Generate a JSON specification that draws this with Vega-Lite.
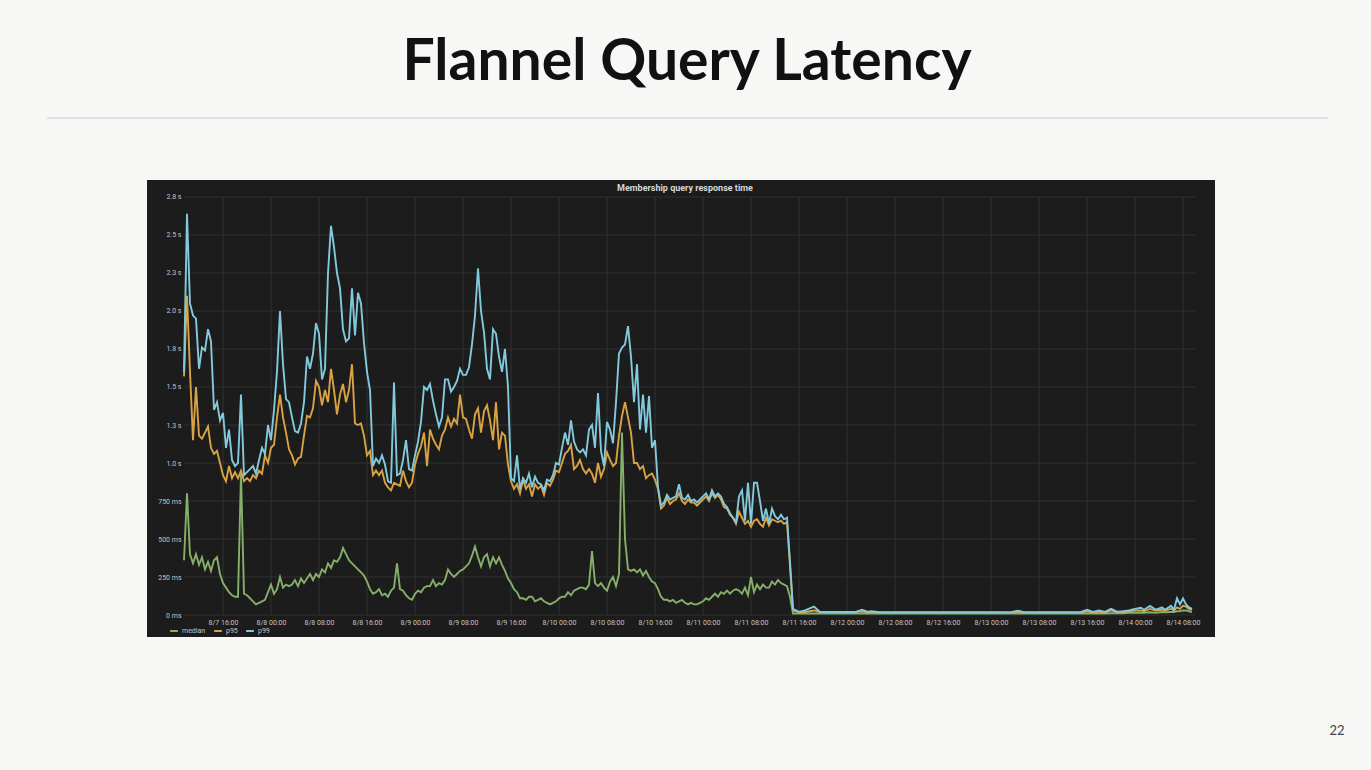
{
  "$schema": "https://vega.github.io/schema/vega-lite/v6.json",
  "width": 1068,
  "height": 457,
  "autosize": {"type": "none"},
  "padding": {"left": 147, "top": 180, "right": 156, "bottom": 133},
  "background": "#f7f7f5",
  "config": {
    "view": {"fill": "#1c1c1c", "stroke": null},
    "axis": {"labelFont": "Roboto", "labelFontSize": 7, "labelColor": "#c4c4c4", "domain": false, "ticks": false, "tickSize": 0, "grid": false, "title": null}
  },
  "datasets": {
    "series": [
      {"t":"2017-08-07T09:30","median":0.36,"p95":1.57,"p99":1.60},
      {"t":"2017-08-07T10:00","median":0.80,"p95":2.10,"p99":2.64},
      {"t":"2017-08-07T10:30","median":0.40,"p95":1.60,"p99":2.05},
      {"t":"2017-08-07T11:00","median":0.34,"p95":1.15,"p99":1.97},
      {"t":"2017-08-07T11:30","median":0.40,"p95":1.50,"p99":1.95},
      {"t":"2017-08-07T12:00","median":0.33,"p95":1.18,"p99":1.62},
      {"t":"2017-08-07T12:30","median":0.38,"p95":1.16,"p99":1.76},
      {"t":"2017-08-07T13:00","median":0.30,"p95":1.20,"p99":1.74},
      {"t":"2017-08-07T13:30","median":0.35,"p95":1.24,"p99":1.88},
      {"t":"2017-08-07T14:00","median":0.29,"p95":1.10,"p99":1.80},
      {"t":"2017-08-07T14:30","median":0.36,"p95":1.06,"p99":1.35},
      {"t":"2017-08-07T15:00","median":0.38,"p95":1.08,"p99":1.40},
      {"t":"2017-08-07T15:30","median":0.27,"p95":1.00,"p99":1.28},
      {"t":"2017-08-07T16:00","median":0.21,"p95":0.92,"p99":1.33},
      {"t":"2017-08-07T16:30","median":0.18,"p95":0.88,"p99":1.10},
      {"t":"2017-08-07T17:00","median":0.15,"p95":0.98,"p99":1.22},
      {"t":"2017-08-07T17:30","median":0.13,"p95":0.90,"p99":1.02},
      {"t":"2017-08-07T18:00","median":0.12,"p95":0.94,"p99":0.98},
      {"t":"2017-08-07T18:30","median":0.12,"p95":0.90,"p99":1.00},
      {"t":"2017-08-07T19:00","median":0.93,"p95":0.95,"p99":1.45},
      {"t":"2017-08-07T19:30","median":0.14,"p95":0.88,"p99":0.92},
      {"t":"2017-08-07T20:00","median":0.13,"p95":0.90,"p99":0.94},
      {"t":"2017-08-07T20:30","median":0.11,"p95":0.88,"p99":0.96},
      {"t":"2017-08-07T21:00","median":0.09,"p95":0.92,"p99":0.98},
      {"t":"2017-08-07T21:30","median":0.07,"p95":0.90,"p99":0.93},
      {"t":"2017-08-07T22:00","median":0.08,"p95":0.95,"p99":1.02},
      {"t":"2017-08-07T22:30","median":0.09,"p95":0.93,"p99":1.10},
      {"t":"2017-08-07T23:00","median":0.10,"p95":1.05,"p99":1.06},
      {"t":"2017-08-07T23:30","median":0.15,"p95":1.00,"p99":1.25},
      {"t":"2017-08-08T00:00","median":0.20,"p95":1.10,"p99":1.15},
      {"t":"2017-08-08T00:30","median":0.14,"p95":1.12,"p99":1.35},
      {"t":"2017-08-08T01:00","median":0.17,"p95":1.30,"p99":1.60},
      {"t":"2017-08-08T01:30","median":0.25,"p95":1.45,"p99":2.00},
      {"t":"2017-08-08T02:00","median":0.18,"p95":1.30,"p99":1.65},
      {"t":"2017-08-08T02:30","median":0.20,"p95":1.20,"p99":1.42},
      {"t":"2017-08-08T03:00","median":0.19,"p95":1.09,"p99":1.40},
      {"t":"2017-08-08T03:30","median":0.20,"p95":1.05,"p99":1.30},
      {"t":"2017-08-08T04:00","median":0.23,"p95":0.99,"p99":1.21},
      {"t":"2017-08-08T04:30","median":0.19,"p95":1.03,"p99":1.20},
      {"t":"2017-08-08T05:00","median":0.24,"p95":1.04,"p99":1.26},
      {"t":"2017-08-08T05:30","median":0.21,"p95":1.18,"p99":1.40},
      {"t":"2017-08-08T06:00","median":0.24,"p95":1.31,"p99":1.70},
      {"t":"2017-08-08T06:30","median":0.27,"p95":1.30,"p99":1.62},
      {"t":"2017-08-08T07:00","median":0.23,"p95":1.36,"p99":1.72},
      {"t":"2017-08-08T07:30","median":0.27,"p95":1.54,"p99":1.92},
      {"t":"2017-08-08T08:00","median":0.25,"p95":1.50,"p99":1.85},
      {"t":"2017-08-08T08:30","median":0.30,"p95":1.38,"p99":1.55},
      {"t":"2017-08-08T09:00","median":0.28,"p95":1.48,"p99":1.62},
      {"t":"2017-08-08T09:30","median":0.34,"p95":1.40,"p99":2.25},
      {"t":"2017-08-08T10:00","median":0.31,"p95":1.62,"p99":2.56},
      {"t":"2017-08-08T10:30","median":0.36,"p95":1.48,"p99":2.42},
      {"t":"2017-08-08T11:00","median":0.35,"p95":1.32,"p99":2.25},
      {"t":"2017-08-08T11:30","median":0.38,"p95":1.45,"p99":2.15},
      {"t":"2017-08-08T12:00","median":0.44,"p95":1.52,"p99":1.88},
      {"t":"2017-08-08T12:30","median":0.40,"p95":1.40,"p99":1.80},
      {"t":"2017-08-08T13:00","median":0.36,"p95":1.48,"p99":1.82},
      {"t":"2017-08-08T13:30","median":0.34,"p95":1.65,"p99":2.15},
      {"t":"2017-08-08T14:00","median":0.32,"p95":1.26,"p99":1.84},
      {"t":"2017-08-08T14:30","median":0.30,"p95":1.25,"p99":2.12},
      {"t":"2017-08-08T15:00","median":0.28,"p95":1.26,"p99":2.05},
      {"t":"2017-08-08T15:30","median":0.26,"p95":1.18,"p99":1.79},
      {"t":"2017-08-08T16:00","median":0.22,"p95":1.05,"p99":1.60},
      {"t":"2017-08-08T16:30","median":0.17,"p95":1.08,"p99":1.48},
      {"t":"2017-08-08T17:00","median":0.14,"p95":0.92,"p99":0.98},
      {"t":"2017-08-08T17:30","median":0.15,"p95":0.95,"p99":1.03},
      {"t":"2017-08-08T18:00","median":0.17,"p95":0.92,"p99":1.00},
      {"t":"2017-08-08T18:30","median":0.13,"p95":0.95,"p99":1.05},
      {"t":"2017-08-08T19:00","median":0.14,"p95":0.87,"p99":0.99},
      {"t":"2017-08-08T19:30","median":0.12,"p95":0.84,"p99":0.88},
      {"t":"2017-08-08T20:00","median":0.16,"p95":0.82,"p99":0.87},
      {"t":"2017-08-08T20:30","median":0.18,"p95":0.87,"p99":1.53},
      {"t":"2017-08-08T21:00","median":0.34,"p95":0.86,"p99":0.92},
      {"t":"2017-08-08T21:30","median":0.17,"p95":0.85,"p99":0.93},
      {"t":"2017-08-08T22:00","median":0.16,"p95":0.95,"p99":1.02},
      {"t":"2017-08-08T22:30","median":0.13,"p95":0.88,"p99":1.15},
      {"t":"2017-08-08T23:00","median":0.11,"p95":0.84,"p99":0.96},
      {"t":"2017-08-08T23:30","median":0.10,"p95":0.87,"p99":0.95},
      {"t":"2017-08-09T00:00","median":0.14,"p95":0.99,"p99":1.05},
      {"t":"2017-08-09T00:30","median":0.16,"p95":1.06,"p99":1.14},
      {"t":"2017-08-09T01:00","median":0.15,"p95":1.11,"p99":1.27},
      {"t":"2017-08-09T01:30","median":0.18,"p95":1.20,"p99":1.50},
      {"t":"2017-08-09T02:00","median":0.19,"p95":0.98,"p99":1.48},
      {"t":"2017-08-09T02:30","median":0.19,"p95":1.22,"p99":1.52},
      {"t":"2017-08-09T03:00","median":0.23,"p95":1.16,"p99":1.41},
      {"t":"2017-08-09T03:30","median":0.19,"p95":1.12,"p99":1.32},
      {"t":"2017-08-09T04:00","median":0.21,"p95":1.09,"p99":1.24},
      {"t":"2017-08-09T04:30","median":0.20,"p95":1.18,"p99":1.30},
      {"t":"2017-08-09T05:00","median":0.23,"p95":1.22,"p99":1.55},
      {"t":"2017-08-09T05:30","median":0.30,"p95":1.30,"p99":1.55},
      {"t":"2017-08-09T06:00","median":0.27,"p95":1.24,"p99":1.47},
      {"t":"2017-08-09T06:30","median":0.25,"p95":1.29,"p99":1.50},
      {"t":"2017-08-09T07:00","median":0.27,"p95":1.26,"p99":1.54},
      {"t":"2017-08-09T07:30","median":0.29,"p95":1.45,"p99":1.62},
      {"t":"2017-08-09T08:00","median":0.30,"p95":1.30,"p99":1.58},
      {"t":"2017-08-09T08:30","median":0.32,"p95":1.29,"p99":1.58},
      {"t":"2017-08-09T09:00","median":0.34,"p95":1.22,"p99":1.63},
      {"t":"2017-08-09T09:30","median":0.39,"p95":1.16,"p99":1.78},
      {"t":"2017-08-09T10:00","median":0.45,"p95":1.32,"p99":1.97},
      {"t":"2017-08-09T10:30","median":0.38,"p95":1.36,"p99":2.28},
      {"t":"2017-08-09T11:00","median":0.32,"p95":1.20,"p99":2.00},
      {"t":"2017-08-09T11:30","median":0.38,"p95":1.34,"p99":1.86},
      {"t":"2017-08-09T12:00","median":0.40,"p95":1.38,"p99":1.62},
      {"t":"2017-08-09T12:30","median":0.32,"p95":1.28,"p99":1.55},
      {"t":"2017-08-09T13:00","median":0.38,"p95":1.15,"p99":1.88},
      {"t":"2017-08-09T13:30","median":0.34,"p95":1.40,"p99":1.85},
      {"t":"2017-08-09T14:00","median":0.38,"p95":1.09,"p99":1.70},
      {"t":"2017-08-09T14:30","median":0.33,"p95":1.20,"p99":1.60},
      {"t":"2017-08-09T15:00","median":0.29,"p95":1.18,"p99":1.75},
      {"t":"2017-08-09T15:30","median":0.24,"p95":0.99,"p99":1.50},
      {"t":"2017-08-09T16:00","median":0.21,"p95":0.88,"p99":0.90},
      {"t":"2017-08-09T16:30","median":0.17,"p95":0.83,"p99":0.88},
      {"t":"2017-08-09T17:00","median":0.15,"p95":0.86,"p99":1.05},
      {"t":"2017-08-09T17:30","median":0.11,"p95":0.80,"p99":0.83},
      {"t":"2017-08-09T18:00","median":0.11,"p95":0.89,"p99":0.90},
      {"t":"2017-08-09T18:30","median":0.10,"p95":0.83,"p99":0.87},
      {"t":"2017-08-09T19:00","median":0.12,"p95":0.86,"p99":0.93},
      {"t":"2017-08-09T19:30","median":0.12,"p95":0.78,"p99":0.84},
      {"t":"2017-08-09T20:00","median":0.09,"p95":0.86,"p99":0.91},
      {"t":"2017-08-09T20:30","median":0.10,"p95":0.83,"p99":0.87},
      {"t":"2017-08-09T21:00","median":0.11,"p95":0.85,"p99":0.86},
      {"t":"2017-08-09T21:30","median":0.09,"p95":0.79,"p99":0.82},
      {"t":"2017-08-09T22:00","median":0.08,"p95":0.87,"p99":0.89},
      {"t":"2017-08-09T22:30","median":0.07,"p95":0.85,"p99":0.88},
      {"t":"2017-08-09T23:00","median":0.08,"p95":0.89,"p99":0.92},
      {"t":"2017-08-09T23:30","median":0.09,"p95":0.95,"p99":1.00},
      {"t":"2017-08-10T00:00","median":0.11,"p95":0.94,"p99":0.99},
      {"t":"2017-08-10T00:30","median":0.12,"p95":1.00,"p99":1.10},
      {"t":"2017-08-10T01:00","median":0.12,"p95":1.06,"p99":1.20},
      {"t":"2017-08-10T01:30","median":0.15,"p95":1.08,"p99":1.12},
      {"t":"2017-08-10T02:00","median":0.13,"p95":1.12,"p99":1.28},
      {"t":"2017-08-10T02:30","median":0.16,"p95":0.96,"p99":1.14},
      {"t":"2017-08-10T03:00","median":0.17,"p95":0.98,"p99":1.09},
      {"t":"2017-08-10T03:30","median":0.18,"p95":1.02,"p99":1.07},
      {"t":"2017-08-10T04:00","median":0.18,"p95":0.96,"p99":1.09},
      {"t":"2017-08-10T04:30","median":0.17,"p95":0.93,"p99":1.05},
      {"t":"2017-08-10T05:00","median":0.20,"p95":0.96,"p99":1.22},
      {"t":"2017-08-10T05:30","median":0.42,"p95":0.93,"p99":1.25},
      {"t":"2017-08-10T06:00","median":0.21,"p95":0.87,"p99":1.10},
      {"t":"2017-08-10T06:30","median":0.19,"p95":1.00,"p99":1.46},
      {"t":"2017-08-10T07:00","median":0.21,"p95":0.91,"p99":1.08},
      {"t":"2017-08-10T07:30","median":0.18,"p95":0.96,"p99":0.98},
      {"t":"2017-08-10T08:00","median":0.16,"p95":1.07,"p99":1.27},
      {"t":"2017-08-10T08:30","median":0.22,"p95":1.02,"p99":1.22},
      {"t":"2017-08-10T09:00","median":0.25,"p95":0.98,"p99":1.13},
      {"t":"2017-08-10T09:30","median":0.19,"p95":1.00,"p99":1.40},
      {"t":"2017-08-10T10:00","median":0.27,"p95":1.18,"p99":1.72},
      {"t":"2017-08-10T10:30","median":1.20,"p95":1.31,"p99":1.76},
      {"t":"2017-08-10T11:00","median":0.50,"p95":1.40,"p99":1.78},
      {"t":"2017-08-10T11:30","median":0.30,"p95":1.30,"p99":1.90},
      {"t":"2017-08-10T12:00","median":0.29,"p95":1.20,"p99":1.70},
      {"t":"2017-08-10T12:30","median":0.30,"p95":1.00,"p99":1.40},
      {"t":"2017-08-10T13:00","median":0.28,"p95":1.00,"p99":1.65},
      {"t":"2017-08-10T13:30","median":0.30,"p95":0.96,"p99":1.22},
      {"t":"2017-08-10T14:00","median":0.26,"p95":0.98,"p99":1.45},
      {"t":"2017-08-10T14:30","median":0.29,"p95":0.90,"p99":1.20},
      {"t":"2017-08-10T15:00","median":0.25,"p95":0.92,"p99":1.44},
      {"t":"2017-08-10T15:30","median":0.22,"p95":0.93,"p99":1.10},
      {"t":"2017-08-10T16:00","median":0.21,"p95":0.89,"p99":1.15},
      {"t":"2017-08-10T16:30","median":0.17,"p95":0.83,"p99":0.84},
      {"t":"2017-08-10T17:00","median":0.12,"p95":0.70,"p99":0.72},
      {"t":"2017-08-10T17:30","median":0.10,"p95":0.72,"p99":0.74},
      {"t":"2017-08-10T18:00","median":0.10,"p95":0.77,"p99":0.79},
      {"t":"2017-08-10T18:30","median":0.09,"p95":0.73,"p99":0.76},
      {"t":"2017-08-10T19:00","median":0.10,"p95":0.75,"p99":0.77},
      {"t":"2017-08-10T19:30","median":0.08,"p95":0.76,"p99":0.78},
      {"t":"2017-08-10T20:00","median":0.09,"p95":0.80,"p99":0.86},
      {"t":"2017-08-10T20:30","median":0.10,"p95":0.75,"p99":0.77},
      {"t":"2017-08-10T21:00","median":0.08,"p95":0.73,"p99":0.76},
      {"t":"2017-08-10T21:30","median":0.07,"p95":0.76,"p99":0.79},
      {"t":"2017-08-10T22:00","median":0.08,"p95":0.74,"p99":0.75},
      {"t":"2017-08-10T22:30","median":0.07,"p95":0.74,"p99":0.76},
      {"t":"2017-08-10T23:00","median":0.07,"p95":0.72,"p99":0.74},
      {"t":"2017-08-10T23:30","median":0.08,"p95":0.74,"p99":0.76},
      {"t":"2017-08-11T00:00","median":0.09,"p95":0.76,"p99":0.78},
      {"t":"2017-08-11T00:30","median":0.11,"p95":0.78,"p99":0.80},
      {"t":"2017-08-11T01:00","median":0.10,"p95":0.75,"p99":0.76},
      {"t":"2017-08-11T01:30","median":0.12,"p95":0.80,"p99":0.82},
      {"t":"2017-08-11T02:00","median":0.14,"p95":0.77,"p99":0.78},
      {"t":"2017-08-11T02:30","median":0.12,"p95":0.79,"p99":0.80},
      {"t":"2017-08-11T03:00","median":0.15,"p95":0.76,"p99":0.78},
      {"t":"2017-08-11T03:30","median":0.14,"p95":0.71,"p99":0.73},
      {"t":"2017-08-11T04:00","median":0.16,"p95":0.70,"p99":0.71},
      {"t":"2017-08-11T04:30","median":0.14,"p95":0.66,"p99":0.67},
      {"t":"2017-08-11T05:00","median":0.16,"p95":0.64,"p99":0.64},
      {"t":"2017-08-11T05:30","median":0.17,"p95":0.60,"p99":0.61},
      {"t":"2017-08-11T06:00","median":0.16,"p95":0.68,"p99":0.78},
      {"t":"2017-08-11T06:30","median":0.14,"p95":0.64,"p99":0.82},
      {"t":"2017-08-11T07:00","median":0.18,"p95":0.60,"p99":0.62},
      {"t":"2017-08-11T07:30","median":0.13,"p95":0.62,"p99":0.87},
      {"t":"2017-08-11T08:00","median":0.25,"p95":0.58,"p99":0.60},
      {"t":"2017-08-11T08:30","median":0.15,"p95":0.62,"p99":0.87},
      {"t":"2017-08-11T09:00","median":0.20,"p95":0.63,"p99":0.87},
      {"t":"2017-08-11T09:30","median":0.17,"p95":0.60,"p99":0.75},
      {"t":"2017-08-11T10:00","median":0.20,"p95":0.58,"p99":0.62},
      {"t":"2017-08-11T10:30","median":0.18,"p95":0.64,"p99":0.70},
      {"t":"2017-08-11T11:00","median":0.18,"p95":0.59,"p99":0.60},
      {"t":"2017-08-11T11:30","median":0.22,"p95":0.63,"p99":0.70},
      {"t":"2017-08-11T12:00","median":0.20,"p95":0.62,"p99":0.65},
      {"t":"2017-08-11T12:30","median":0.23,"p95":0.61,"p99":0.63},
      {"t":"2017-08-11T13:00","median":0.21,"p95":0.62,"p99":0.66},
      {"t":"2017-08-11T13:30","median":0.20,"p95":0.60,"p99":0.63},
      {"t":"2017-08-11T14:00","median":0.19,"p95":0.61,"p99":0.64},
      {"t":"2017-08-11T14:30","median":0.12,"p95":0.32,"p99":0.35},
      {"t":"2017-08-11T15:00","median":0.01,"p95":0.03,"p99":0.04},
      {"t":"2017-08-11T16:00","median":0.01,"p95":0.02,"p99":0.02},
      {"t":"2017-08-11T17:00","median":0.01,"p95":0.02,"p99":0.03},
      {"t":"2017-08-11T18:30","median":0.01,"p95":0.03,"p99":0.055},
      {"t":"2017-08-11T19:30","median":0.01,"p95":0.02,"p99":0.02},
      {"t":"2017-08-11T21:30","median":0.01,"p95":0.015,"p99":0.02},
      {"t":"2017-08-11T23:30","median":0.01,"p95":0.015,"p99":0.02},
      {"t":"2017-08-12T01:30","median":0.01,"p95":0.02,"p99":0.02},
      {"t":"2017-08-12T02:30","median":0.01,"p95":0.025,"p99":0.035},
      {"t":"2017-08-12T03:30","median":0.01,"p95":0.015,"p99":0.02},
      {"t":"2017-08-12T04:00","median":0.01,"p95":0.02,"p99":0.025},
      {"t":"2017-08-12T05:30","median":0.01,"p95":0.015,"p99":0.018},
      {"t":"2017-08-12T07:30","median":0.01,"p95":0.015,"p99":0.018},
      {"t":"2017-08-12T09:30","median":0.01,"p95":0.015,"p99":0.018},
      {"t":"2017-08-12T11:30","median":0.01,"p95":0.015,"p99":0.018},
      {"t":"2017-08-12T13:30","median":0.01,"p95":0.015,"p99":0.018},
      {"t":"2017-08-12T15:30","median":0.01,"p95":0.015,"p99":0.018},
      {"t":"2017-08-12T17:30","median":0.01,"p95":0.015,"p99":0.018},
      {"t":"2017-08-12T19:30","median":0.01,"p95":0.015,"p99":0.018},
      {"t":"2017-08-12T21:30","median":0.01,"p95":0.015,"p99":0.018},
      {"t":"2017-08-12T23:30","median":0.01,"p95":0.015,"p99":0.018},
      {"t":"2017-08-13T01:30","median":0.01,"p95":0.015,"p99":0.018},
      {"t":"2017-08-13T03:30","median":0.01,"p95":0.015,"p99":0.02},
      {"t":"2017-08-13T04:30","median":0.01,"p95":0.02,"p99":0.028},
      {"t":"2017-08-13T05:30","median":0.01,"p95":0.015,"p99":0.018},
      {"t":"2017-08-13T07:30","median":0.01,"p95":0.015,"p99":0.018},
      {"t":"2017-08-13T09:30","median":0.01,"p95":0.015,"p99":0.018},
      {"t":"2017-08-13T11:30","median":0.01,"p95":0.015,"p99":0.018},
      {"t":"2017-08-13T13:30","median":0.01,"p95":0.015,"p99":0.018},
      {"t":"2017-08-13T15:00","median":0.01,"p95":0.015,"p99":0.02},
      {"t":"2017-08-13T16:00","median":0.01,"p95":0.025,"p99":0.035},
      {"t":"2017-08-13T17:00","median":0.01,"p95":0.015,"p99":0.02},
      {"t":"2017-08-13T18:00","median":0.01,"p95":0.02,"p99":0.03},
      {"t":"2017-08-13T19:00","median":0.01,"p95":0.015,"p99":0.02},
      {"t":"2017-08-13T20:00","median":0.012,"p95":0.03,"p99":0.04},
      {"t":"2017-08-13T21:00","median":0.012,"p95":0.018,"p99":0.022},
      {"t":"2017-08-13T22:00","median":0.012,"p95":0.02,"p99":0.025},
      {"t":"2017-08-13T23:00","median":0.015,"p95":0.025,"p99":0.03},
      {"t":"2017-08-14T00:00","median":0.015,"p95":0.03,"p99":0.04},
      {"t":"2017-08-14T01:00","median":0.015,"p95":0.03,"p99":0.048},
      {"t":"2017-08-14T01:30","median":0.015,"p95":0.025,"p99":0.035},
      {"t":"2017-08-14T02:30","median":0.018,"p95":0.04,"p99":0.06},
      {"t":"2017-08-14T03:30","median":0.015,"p95":0.03,"p99":0.035},
      {"t":"2017-08-14T04:30","median":0.02,"p95":0.035,"p99":0.05},
      {"t":"2017-08-14T05:00","median":0.018,"p95":0.03,"p99":0.035},
      {"t":"2017-08-14T06:00","median":0.02,"p95":0.04,"p99":0.06},
      {"t":"2017-08-14T06:30","median":0.02,"p95":0.03,"p99":0.035},
      {"t":"2017-08-14T07:00","median":0.025,"p95":0.05,"p99":0.11},
      {"t":"2017-08-14T07:30","median":0.025,"p95":0.04,"p99":0.07},
      {"t":"2017-08-14T08:00","median":0.03,"p95":0.06,"p99":0.11},
      {"t":"2017-08-14T08:30","median":0.03,"p95":0.055,"p99":0.07},
      {"t":"2017-08-14T09:00","median":0.025,"p95":0.04,"p99":0.05},
      {"t":"2017-08-14T09:30","median":0.02,"p95":0.035,"p99":0.04}
    ],
    "hgrid": [
      {"v":0},{"v":0.25},{"v":0.5},{"v":0.75},{"v":1},{"v":1.25},{"v":1.5},{"v":1.75},{"v":2},{"v":2.25},{"v":2.5},{"v":2.75}
    ],
    "vgrid": [
      {"t":"2017-08-07T16:00"},{"t":"2017-08-08T00:00"},{"t":"2017-08-08T08:00"},{"t":"2017-08-08T16:00"},
      {"t":"2017-08-09T00:00"},{"t":"2017-08-09T08:00"},{"t":"2017-08-09T16:00"},
      {"t":"2017-08-10T00:00"},{"t":"2017-08-10T08:00"},{"t":"2017-08-10T16:00"},
      {"t":"2017-08-11T00:00"},{"t":"2017-08-11T08:00"},{"t":"2017-08-11T16:00"},
      {"t":"2017-08-12T00:00"},{"t":"2017-08-12T08:00"},{"t":"2017-08-12T16:00"},
      {"t":"2017-08-13T00:00"},{"t":"2017-08-13T08:00"},{"t":"2017-08-13T16:00"},
      {"t":"2017-08-14T00:00"},{"t":"2017-08-14T08:00"}
    ]
  },
  "layer": [
    {
      "data": {"name": "series"},
      "transform": [{"fold": ["median", "p95", "p99"], "as": ["series", "value"]}],
      "mark": {"type": "line", "strokeWidth": 0, "opacity": 0},
      "encoding": {
        "x": {"field": "t", "type": "temporal",
          "scale": {"domain": [{"year": 2017, "month": 8, "date": 7, "hours": 3, "minutes": 20}, {"year": 2017, "month": 8, "date": 14, "hours": 13, "minutes": 20}], "nice": false},
          "axis": {"orient": "bottom", "offset": -22, "labelPadding": 3, "format": "%-m/%-d %H:%M", "labelFlush": false, "labelOverlap": false,
            "values": [
              {"year": 2017, "month": 8, "date": 7, "hours": 16},
              {"year": 2017, "month": 8, "date": 8, "hours": 0},
              {"year": 2017, "month": 8, "date": 8, "hours": 8},
              {"year": 2017, "month": 8, "date": 8, "hours": 16},
              {"year": 2017, "month": 8, "date": 9, "hours": 0},
              {"year": 2017, "month": 8, "date": 9, "hours": 8},
              {"year": 2017, "month": 8, "date": 9, "hours": 16},
              {"year": 2017, "month": 8, "date": 10, "hours": 0},
              {"year": 2017, "month": 8, "date": 10, "hours": 8},
              {"year": 2017, "month": 8, "date": 10, "hours": 16},
              {"year": 2017, "month": 8, "date": 11, "hours": 0},
              {"year": 2017, "month": 8, "date": 11, "hours": 8},
              {"year": 2017, "month": 8, "date": 11, "hours": 16},
              {"year": 2017, "month": 8, "date": 12, "hours": 0},
              {"year": 2017, "month": 8, "date": 12, "hours": 8},
              {"year": 2017, "month": 8, "date": 12, "hours": 16},
              {"year": 2017, "month": 8, "date": 13, "hours": 0},
              {"year": 2017, "month": 8, "date": 13, "hours": 8},
              {"year": 2017, "month": 8, "date": 13, "hours": 16},
              {"year": 2017, "month": 8, "date": 14, "hours": 0},
              {"year": 2017, "month": 8, "date": 14, "hours": 8}
            ]}},
        "y": {"field": "value", "type": "quantitative",
          "scale": {"domain": [-0.1447, 2.8618], "nice": false, "zero": false},
          "axis": {"orient": "left", "offset": -38, "labelPadding": 4, "labelFlush": false, "labelOverlap": false,
            "values": [0, 0.25, 0.5, 0.75, 1, 1.25, 1.5, 1.75, 2, 2.25, 2.5, 2.75],
            "labelExpr": "datum.value < 1 ? format(datum.value * 1000, 'd') + ' ms' : format(datum.value, '.1f') + ' s'"}}
      }
    },
    {
      "data": {"name": "hgrid"},
      "mark": {"type": "rule", "color": "#303030", "strokeWidth": 1},
      "encoding": {
        "y": {"field": "v", "type": "quantitative"},
        "x": {"datum": {"year": 2017, "month": 8, "date": 7, "hours": 9, "minutes": 30}, "type": "temporal"},
        "x2": {"datum": {"year": 2017, "month": 8, "date": 14, "hours": 10, "minutes": 0}}
      }
    },
    {
      "data": {"name": "vgrid"},
      "mark": {"type": "rule", "color": "#303030", "strokeWidth": 1},
      "encoding": {
        "x": {"field": "t", "type": "temporal"},
        "y": {"datum": 0, "type": "quantitative"},
        "y2": {"datum": 2.75}
      }
    },
    {
      "data": {"name": "series"},
      "transform": [{"fold": ["median", "p95", "p99"], "as": ["series", "value"]}],
      "mark": {"type": "line", "strokeWidth": 1.9, "interpolate": "linear"},
      "encoding": {
        "x": {"field": "t", "type": "temporal"},
        "y": {"field": "value", "type": "quantitative"},
        "color": {"field": "series", "type": "nominal",
          "scale": {"domain": ["median", "p95", "p99"], "range": ["#86b06a", "#d9a244", "#82cadb"]},
          "legend": {"orient": "none", "legendX": 22, "legendY": 446, "direction": "horizontal", "title": null,
            "symbolType": "stroke", "symbolStrokeWidth": 2, "symbolSize": 60, "labelFontSize": 7, "labelColor": "#c4c4c4", "labelFont": "Roboto", "columnPadding": 4, "labelOffset": 3}}
      }
    },
    {
      "data": {"values": [{}]},
      "mark": {"type": "rule", "color": "#d9d9d9", "strokeWidth": 1.5},
      "encoding": {
        "x": {"datum": {"year": 2017, "month": 8, "date": 6, "hours": 10, "minutes": 40}, "type": "temporal"},
        "x2": {"datum": {"year": 2017, "month": 8, "date": 15, "hours": 8, "minutes": 10}},
        "y": {"datum": 3.27, "type": "quantitative"}
      }
    },
    {
      "data": {"values": [{"label": "Flannel Query Latency"}]},
      "mark": {"type": "text", "font": "Lato", "fontWeight": "bold", "fontSize": 57, "color": "#111111", "align": "center", "baseline": "alphabetic"},
      "encoding": {
        "x": {"datum": {"year": 2017, "month": 8, "date": 10, "hours": 21, "minutes": 20}, "type": "temporal"},
        "y": {"datum": 3.52, "type": "quantitative"},
        "text": {"field": "label"}
      }
    },
    {
      "data": {"values": [{"label": "Membership query response time"}]},
      "mark": {"type": "text", "font": "Roboto", "fontWeight": "bold", "fontSize": 9, "color": "#d6d6d6", "align": "center", "baseline": "middle"},
      "encoding": {
        "x": {"datum": {"year": 2017, "month": 8, "date": 10, "hours": 21, "minutes": 0}, "type": "temporal"},
        "y": {"datum": 2.809, "type": "quantitative"},
        "text": {"field": "label"}
      }
    },
    {
      "data": {"values": [{"label": "22"}]},
      "mark": {"type": "text", "font": "Lato", "fontSize": 13, "color": "#444444", "align": "center", "baseline": "middle"},
      "encoding": {
        "x": {"datum": {"year": 2017, "month": 8, "date": 15, "hours": 9, "minutes": 40}, "type": "temporal"},
        "y": {"datum": -0.763, "type": "quantitative"},
        "text": {"field": "label"}
      }
    }
  ]
}
